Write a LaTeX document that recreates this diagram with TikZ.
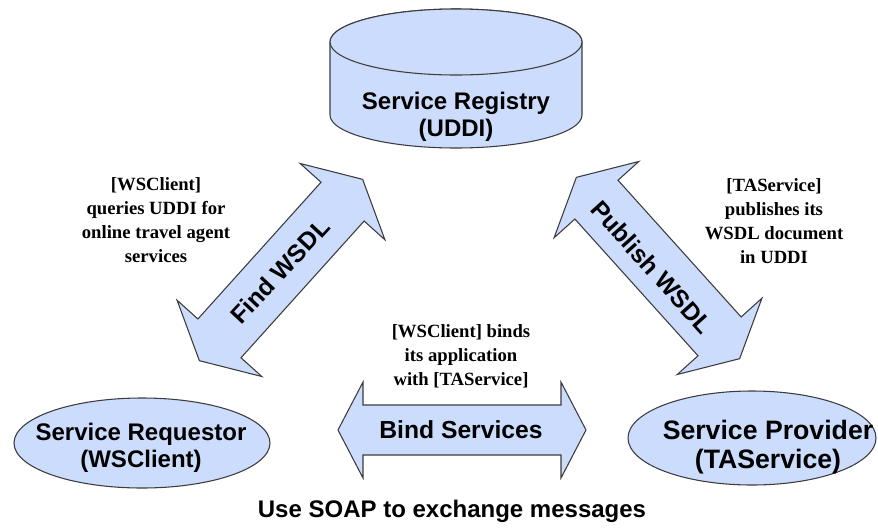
\documentclass[tikz,border=0pt]{standalone}
\usepackage{fontspec}
\setmainfont{Liberation Serif}
\setsansfont{Liberation Sans}
\usetikzlibrary{shapes.geometric}
\definecolor{shapefill}{RGB}{204,220,252}
\definecolor{shapeline}{RGB}{60,60,60}
\tikzset{
  blueshape/.style={fill=shapefill, draw=shapeline, line width=0.8pt, line join=miter},
  sanslabel/.style={font=\sffamily\bfseries\fontsize{18}{20.25}\selectfont, align=center, inner sep=0pt},
  seriflabel/.style={font=\rmfamily\bfseries\fontsize{14}{18}\selectfont, align=center, inner sep=0pt},
  arrowlabel/.style={font=\sffamily\bfseries\fontsize{18.5}{20}\selectfont, inner sep=0pt},
}
% double arrow along local x axis: half length, head length, shaft half width, head half width
\newcommand{\dblarrowpath}[4]{%
  (-#1,0) -- (-#1+#2,#4) -- (-#1+#2,#3) -- (#1-#2,#3) -- (#1-#2,#4) -- (#1,0)
  -- (#1-#2,-#4) -- (#1-#2,-#3) -- (-#1+#2,-#3) -- (-#1+#2,-#4) -- cycle}
\begin{document}
\begin{tikzpicture}[x=0.75pt,y=-0.75pt]
\useasboundingbox (0,0) rectangle (878,529);

% Service Registry cylinder
\draw[blueshape] (330,42) -- (330,115) arc[start angle=180, end angle=0, x radius=126, y radius=33]
  -- (582,42) arc[start angle=0, end angle=-180, x radius=126, y radius=33] -- cycle;
\draw[blueshape] (456,42) ellipse[x radius=126, y radius=33];
\node[sanslabel] (registry) at (456,117) {Service Registry\\(UDDI)};

% Requestor and Provider
\node[ellipse, blueshape, minimum width=192pt, minimum height=67.5pt, inner sep=0pt] (requestor) at (142,443) {};
\node[sanslabel] (requestortext) at (141,448) {Service Requestor\\(WSClient)};
\node[ellipse, blueshape, minimum width=186pt, minimum height=70.5pt, inner sep=0pt] (provider) at (752,438) {};
\node[sanslabel, font=\sffamily\bfseries\fontsize{20}{21.75}\selectfont] (providertext) at (768,447) {Service Provider\\(TAService)};

% Find WSDL arrow
\begin{scope}[shift={(281,270)}, rotate=48]
  \draw[blueshape] \dblarrowpath{122}{30}{29}{57};
\end{scope}
\node[arrowlabel, rotate=47] (find) at (280,271) {Find WSDL};

% Publish WSDL arrow
\begin{scope}[shift={(658,268)}, rotate=-48]
  \draw[blueshape] \dblarrowpath{122}{30}{29}{57};
\end{scope}
\node[arrowlabel, rotate=-48] (publish) at (652,267) {Publish WSDL};

% Bind Services arrow
\begin{scope}[shift={(462,430)}]
  \draw[blueshape] \dblarrowpath{124}{25}{25}{48};
\end{scope}
\node[arrowlabel] (bind) at (461,430) {Bind Services};

% Descriptions
\node[seriflabel] (findtext) at (156,220) {[WSClient]\\queries UDDI for\\online travel agent\\services};
\node[seriflabel] (publishtext) at (774,221) {[TAService]\\publishes its\\WSDL document\\in UDDI};
\node[seriflabel] (bindtext) at (461,356) {[WSClient] binds\\its application\\with [TAService]};

\node[sanslabel] (soap) at (452,511) {Use SOAP to exchange messages};
\end{tikzpicture}
\end{document}
